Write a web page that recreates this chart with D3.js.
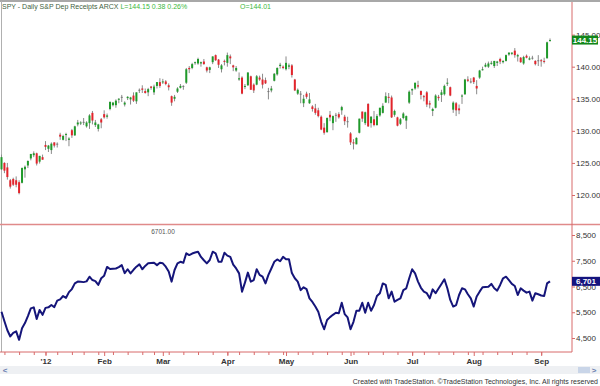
<!DOCTYPE html>
<html>
<head>
<meta charset="utf-8">
<script src="https://cdn.jsdelivr.net/npm/d3@7"></script>
<style>
  body { margin: 0; background: #fff; }
  svg { display: block; font-family: "Liberation Sans", Arial, sans-serif; }
  .axis path { display: none; }
  .axis line { stroke: #d86a6a; }
  .axis text { fill: #333; }
</style>
</head>
<body>
<script>
// trading days per month (Dec 2011 .. Sep 2012)
var tradingDays = [
  ["2011-12", [9,12,13,14,15,16,19,20,21,22,23,27,28,29,30]],
  ["2012-01", [3,4,5,6,9,10,11,12,13,17,18,19,20,23,24,25,26,27,30,31]],
  ["2012-02", [1,2,3,6,7,8,9,10,13,14,15,16,17,21,22,23,24,27,28,29]],
  ["2012-03", [1,2,5,6,7,8,9,12,13,14,15,16,19,20,21,22,23,26,27,28,29,30]],
  ["2012-04", [2,3,4,5,9,10,11,12,13,16,17,18,19,20,23,24,25,26,27,30]],
  ["2012-05", [1,2,3,4,7,8,9,10,11,14,15,16,17,18,21,22,23,24,25,29,30,31]],
  ["2012-06", [1,4,5,6,7,8,11,12,13,14,15,18,19,20,21,22,25,26,27,28,29]],
  ["2012-07", [2,3,5,6,9,10,11,12,13,16,17,18,19,20,23,24,25,26,27,30,31]],
  ["2012-08", [1,2,3,6,7,8,9,10,13,14,15,16,17,20,21,22,23,24,27,28,29,30,31]],
  ["2012-09", [4,5,6,7]]
];

var open = [
  124.0,125.0,124.3,122.3,122.5,122.3,122.0,121.9,124.0,124.6,125.7,126.2,126.5,125.2,125.9,
  127.8,127.2,127.0,128.2,128.0,129.4,128.6,129.4,128.6,130.1,129.3,131.0,131.2,131.4,130.7,131.2,132.8,130.9,130.3,131.8,
  132.6,132.2,133.4,134.0,134.0,134.9,135.3,134.1,135.1,134.9,135.5,134.6,136.4,136.6,136.2,136.0,136.9,136.0,137.0,137.6,
  137.6,137.7,137.1,135.4,135.0,136.1,136.7,137.0,137.5,139.8,139.8,140.6,140.5,140.5,140.8,139.9,139.5,140.7,141.8,141.1,139.6,140.9,
  140.6,141.6,140.2,139.4,138.0,138.3,136.9,137.1,138.5,137.2,137.2,138.3,138.0,137.9,136.2,136.3,137.8,138.8,140.1,140.0,
  139.6,140.0,140.2,138.0,135.8,135.8,134.3,135.8,134.3,133.8,133.5,133.2,132.2,130.5,129.8,132.5,131.2,132.5,132.6,133.2,132.2,131.5,
  129.6,128.2,127.9,129.7,133.0,131.2,134.2,131.2,131.8,130.9,132.4,132.8,134.4,135.3,135.2,132.5,132.1,131.1,132.0,131.6,134.4,
  136.3,136.6,137.1,136.2,135.4,136.0,134.3,133.1,133.6,135.3,135.6,135.7,137.4,136.8,133.3,134.3,133.5,135.4,135.7,138.0,137.7,
  138.3,137.0,138.3,139.5,140.0,140.0,140.5,140.1,140.6,141.2,140.7,140.9,141.9,142.0,142.5,141.6,141.4,140.5,141.7,141.1,141.4,140.9,141.0,
  141.0,140.9,141.3,144.01
];
var high = [
  126.3,125.1,125.0,122.5,122.7,122.9,122.3,124.3,124.6,125.4,126.4,126.8,126.6,126.1,126.3,
  128.4,127.8,128.2,128.2,128.2,129.7,129.4,129.7,129.0,130.3,130.8,131.7,131.5,132.0,131.5,132.6,133.1,131.7,131.1,132.0,
  133.2,132.7,134.6,134.5,134.9,135.1,135.6,134.6,135.4,135.3,136.0,136.0,136.6,137.1,136.6,136.7,137.0,137.2,137.6,138.2,
  138.1,137.9,137.4,135.5,135.6,136.8,137.3,137.1,139.8,140.1,140.6,140.8,141.4,140.8,141.2,140.0,140.0,141.6,141.9,141.2,140.4,141.1,
  142.2,141.9,140.3,140.1,139.1,138.5,137.3,139.1,138.6,137.4,138.7,138.6,138.9,138.3,136.7,137.0,139.0,139.9,140.6,140.2,
  141.6,140.5,140.4,138.1,136.6,136.2,135.6,136.1,135.9,134.0,134.2,133.6,132.4,131.2,132.1,133.1,132.4,132.8,132.9,133.9,132.5,132.2,
  129.8,128.7,129.0,131.9,133.0,133.0,134.3,132.3,133.1,132.6,133.6,134.3,136.0,135.9,135.5,133.3,132.2,132.0,132.9,132.4,136.3,
  136.6,137.5,137.8,136.3,135.6,136.2,134.7,133.6,135.7,135.6,136.4,137.2,138.2,136.9,134.6,134.5,134.1,135.7,138.1,138.5,138.2,
  138.4,137.9,139.5,140.0,140.6,140.8,140.9,140.9,140.9,141.4,141.0,141.9,142.2,142.2,142.9,142.0,141.5,141.7,141.9,141.6,141.7,141.0,141.8,
  141.2,141.4,143.9,144.4
];
var low = [
  123.9,123.4,122.4,121.0,121.4,121.2,120.1,121.8,122.7,124.2,125.4,125.9,124.6,124.9,125.5,
  127.0,126.7,126.4,127.4,127.4,128.6,128.5,128.4,127.6,128.9,129.2,130.7,130.9,130.9,130.5,130.3,131.0,130.6,129.9,130.4,
  131.9,131.9,133.2,133.8,133.6,134.3,134.5,133.8,134.8,134.1,134.5,134.2,135.9,135.9,135.8,135.4,136.4,135.6,136.6,136.7,
  137.3,137.1,136.3,133.9,134.6,135.9,136.6,136.4,137.3,139.0,139.6,140.3,140.3,140.0,140.3,139.1,139.0,140.4,140.9,139.8,139.1,140.2,
  140.0,140.4,139.3,139.2,137.8,135.7,136.5,137.0,136.4,135.9,137.1,137.8,136.6,137.3,134.9,136.0,137.7,138.6,139.7,139.6,
  139.4,139.6,138.3,136.2,135.6,134.3,133.7,135.0,134.2,133.0,132.5,132.1,130.1,129.4,129.7,131.5,130.1,131.4,131.9,132.5,130.9,130.5,
  127.8,127.1,127.9,129.6,131.4,130.9,130.6,130.5,130.7,130.8,132.2,132.7,134.4,134.3,132.0,132.2,130.7,130.9,131.8,130.3,134.2,
  135.6,136.4,136.6,134.9,134.6,133.7,133.5,132.3,133.5,134.7,134.5,135.5,137.0,135.4,132.8,132.3,132.6,134.2,135.6,137.6,137.4,
  137.3,135.7,138.1,139.4,139.9,139.8,140.3,139.8,140.1,140.4,140.5,140.8,141.7,141.8,141.4,140.8,140.6,140.3,141.3,141.0,141.1,140.2,140.1,
  140.0,140.5,141.3,143.9
];
var close = [
  125.9,123.8,122.8,121.3,121.6,121.6,120.3,124.2,124.4,125.3,126.4,126.5,124.9,126.1,125.5,
  127.5,127.7,128.0,127.7,128.0,129.1,129.2,129.5,128.8,129.3,130.7,131.3,131.3,131.4,131.3,132.4,131.6,131.3,131.0,131.3,
  132.1,132.4,134.5,134.4,134.7,135.0,135.3,134.4,135.3,135.2,134.7,136.0,136.4,136.4,135.9,136.5,136.7,136.9,137.6,137.0,
  137.7,137.3,136.8,134.4,135.3,136.6,137.0,137.0,139.6,139.6,140.4,140.7,141.2,140.7,140.4,139.4,139.9,141.6,141.0,140.3,140.2,140.8,
  141.8,141.3,139.9,139.8,138.2,135.8,137.0,139.1,136.4,136.3,138.5,138.0,137.2,137.4,136.2,136.6,138.9,139.8,140.3,139.8,
  140.6,140.2,138.7,136.3,136.4,135.8,135.0,135.3,134.9,133.4,132.8,132.3,130.2,129.7,132.0,132.1,132.3,132.5,132.1,133.7,131.5,131.5,
  128.2,128.1,128.9,131.9,131.9,132.9,130.7,132.2,130.9,132.3,133.6,133.9,135.4,135.2,132.1,133.1,130.8,131.8,132.7,132.3,136.1,
  136.5,137.5,136.9,135.6,135.3,134.1,134.1,133.4,135.5,135.1,136.0,137.0,137.5,135.5,134.4,133.2,133.2,135.5,138.0,137.8,137.7,
  137.6,136.6,139.4,139.6,140.3,140.5,140.6,140.9,140.8,140.8,140.9,141.8,142.2,142.2,141.8,141.8,140.7,141.5,141.4,141.3,141.4,140.4,141.0,
  140.9,140.8,143.8,144.15
];

// lower study line
var study = [
  5520,5150,4800,4560,4700,4760,4430,4880,5080,5350,5650,5690,5240,5590,5400,
  5670,5690,5780,5700,5950,6000,6130,6060,6280,6400,6620,6690,6680,6670,6700,6880,6750,6710,6560,6820,
  6920,7260,7180,7190,7200,7250,7330,7020,7170,7010,7150,7270,7360,7170,7300,7400,7410,7420,7330,7420,
  7400,7270,7080,6690,7140,7400,7460,7420,7790,7720,7780,7820,7850,7650,7520,7400,7530,7850,7790,7460,7460,7810,
  7700,7650,7350,7200,7010,6300,6650,7040,6690,6750,7170,6950,6880,6620,6950,7200,7460,7550,7480,7650,
  7560,7560,7020,6820,6690,6360,6470,6400,6040,5900,5720,5520,5130,4840,5200,5310,5400,5480,5460,5870,5430,5300,
  4840,5130,5560,5560,5870,5480,5870,5560,5780,6130,6240,6620,6560,6040,6300,5910,5980,6040,6360,6430,6820,
  7170,7010,6690,6450,6300,6240,6040,6390,6240,6420,6600,6780,6430,5980,5720,5780,6170,6430,6390,6200,6040,
  5720,6110,6300,6470,6480,6490,6600,6430,6340,6560,6820,6880,6750,6600,6520,6170,6430,6340,6260,6300,5950,6240,6200,
  6150,6130,6620,6701
];

var monthLabels = ["'12", "Feb", "Mar", "Apr", "May", "Jun", "Jul", "Aug", "Sep"];
var priceTicks = [120, 125, 130, 135, 140, 145];
var studyTicks = [4500, 5500, 6500, 7500, 8500];
var lastPrice = 144.15, lastStudy = 6701;

var width = 600, height = 386;

// build dates
var dates = [];
tradingDays.forEach(function(m) {
  m[1].forEach(function(d) { dates.push(m[0] + "-" + (d < 10 ? "0" + d : d)); });
});
var bars = dates.map(function(d, i) {
  return {date: d, o: open[i], h: high[i], l: low[i], c: close[i], s: study[i]};
});

// first trading day of each month (skip the partial first month)
var monthStarts = [];
dates.forEach(function(d, i) {
  if (i > 0 && d.slice(0, 7) != dates[i - 1].slice(0, 7)) monthStarts.push(d);
});
// first trading day of each week
var weekStarts = [];
var parse = d3.timeParse("%Y-%m-%d");
dates.forEach(function(d, i) {
  if (i == 0) return;
  if (d3.timeMonday.floor(parse(d)) > d3.timeMonday.floor(parse(dates[i - 1]))) weekStarts.push(d);
});

var svg = d3.select("body").append("svg")
  .attr("width", width)
  .attr("height", height);

var x = d3.scalePoint().domain(dates).range([1.5, 550]);
var yPrice = d3.scaleLinear().domain([120, 145]).range([195, 34.6]);
var yStudy = d3.scaleLinear().domain([4500, 8500]).range([338, 235]);

// frame
svg.append("line").attr("x1", 0).attr("x2", width).attr("y1", 1).attr("y2", 1)
  .attr("stroke", "#a8a8a8").attr("stroke-width", 2);
svg.append("line").attr("x1", 1.5).attr("x2", 1.5).attr("y1", 1).attr("y2", 352)
  .attr("stroke", "#b0b0b0");
svg.append("line").attr("x1", 0).attr("x2", width).attr("y1", 224.5).attr("y2", 224.5)
  .attr("stroke", "#e08a8a").attr("stroke-width", 1.5);
svg.append("line").attr("x1", 572).attr("x2", 572).attr("y1", 2).attr("y2", 352)
  .attr("stroke", "#d86a6a");

// title
var title = svg.append("text").attr("x", 2).attr("y", 9).style("font-size", "7px");
title.append("tspan").attr("fill", "#3f5f3f").text("SPY - Daily  S&P Dep Receipts  ARCX  ");
title.append("tspan").attr("fill", "#3cb83c").text("L=144.15  0.38  0.26%");
svg.append("text").attr("x", 240).attr("y", 9).style("font-size", "7px")
  .attr("fill", "#3cb83c").text("O=144.01");

// candles
var candles = svg.append("g").selectAll("g").data(bars).enter().append("g");
candles.append("line")
  .attr("x1", function(d) { return x(d.date); })
  .attr("x2", function(d) { return x(d.date); })
  .attr("y1", function(d) { return yPrice(d.h); })
  .attr("y2", function(d) { return yPrice(d.l); })
  .attr("stroke", "#8a8a8a").attr("stroke-width", 1);
candles.append("rect")
  .attr("x", function(d) { return x(d.date) - 1; })
  .attr("width", 2)
  .attr("y", function(d) { return yPrice(Math.max(d.o, d.c)); })
  .attr("height", function(d) { return Math.max(1, Math.abs(yPrice(d.o) - yPrice(d.c))); })
  .attr("fill", function(d) {
    if (d.c > d.o) return "#1f9a2a";
    if (d.c < d.o) return "#e3242b";
    return "#777";
  });

// price axis
svg.append("g").attr("class", "axis").attr("transform", "translate(572,0)")
  .call(d3.axisRight(yPrice).tickValues(priceTicks).tickSize(3).tickPadding(1)
    .tickFormat(d3.format(".2f")))
  .selectAll("text").style("font-size", "8px");

var pb = svg.append("g").attr("transform", "translate(572," + yPrice(lastPrice) + ")");
pb.append("rect").attr("x", 0).attr("y", -4.5).attr("width", 26).attr("height", 9).attr("fill", "#12861a");
pb.append("text").attr("x", 13).attr("y", 3).attr("text-anchor", "middle")
  .style("font-size", "8px").style("font-weight", "bold").attr("fill", "#fff")
  .text(d3.format(".2f")(lastPrice));

// study line
var line = d3.line()
  .x(function(d) { return x(d.date); })
  .y(function(d) { return yStudy(d.s); });
svg.append("path").datum(bars)
  .attr("d", line)
  .attr("fill", "none")
  .attr("stroke", "#15157a")
  .attr("stroke-width", 2)
  .attr("stroke-linejoin", "round");

svg.append("text").attr("x", 163).attr("y", 233.5).attr("text-anchor", "middle")
  .style("font-size", "6.5px").attr("fill", "#555").text(d3.format(".2f")(lastStudy));

svg.append("g").attr("class", "axis").attr("transform", "translate(572,0)")
  .call(d3.axisRight(yStudy).tickValues(studyTicks).tickSize(3).tickPadding(1)
    .tickFormat(d3.format(",")))
  .selectAll("text").style("font-size", "8px");

var sb = svg.append("g").attr("transform", "translate(572," + yStudy(lastStudy) + ")");
sb.append("rect").attr("x", 0).attr("y", -4.5).attr("width", 28).attr("height", 9).attr("fill", "#14147e");
sb.append("text").attr("x", 14).attr("y", 3).attr("text-anchor", "middle")
  .style("font-size", "8px").style("font-weight", "bold").attr("fill", "#fff")
  .text(d3.format(",")(lastStudy));

// time axis
svg.append("line").attr("x1", 0).attr("x2", 572).attr("y1", 352).attr("y2", 352)
  .attr("stroke", "#d86a6a");
svg.append("g").attr("class", "axis").attr("transform", "translate(0,352)")
  .call(d3.axisBottom(x).tickValues(weekStarts).tickSize(3).tickFormat(""));
svg.append("g").attr("class", "axis").attr("transform", "translate(0,352)")
  .call(d3.axisBottom(x).tickValues(monthStarts).tickSize(4).tickPadding(2)
    .tickFormat(function(d, i) { return monthLabels[i]; }))
  .selectAll("text").style("font-size", "8px").style("font-weight", "bold").attr("fill", "#444");

// scroll strip
svg.append("rect").attr("x", 0).attr("y", 366).attr("width", width).attr("height", 8).attr("fill", "#eef0f3");
svg.append("text").attr("x", 5).attr("y", 372.5).attr("text-anchor", "middle")
  .style("font-size", "8px").style("font-weight", "bold").attr("fill", "#6a7fb0").text("<");
svg.append("rect").attr("x", 578).attr("y", 367).attr("width", 12).attr("height", 6).attr("fill", "#c9d5e8");
svg.append("text").attr("x", 594).attr("y", 372.5).attr("text-anchor", "middle")
  .style("font-size", "8px").style("font-weight", "bold").attr("fill", "#6a7fb0").text(">");

svg.append("text").attr("x", 598).attr("y", 384).attr("text-anchor", "end")
  .style("font-size", "7px").attr("fill", "#333")
  .text("Created with TradeStation. \u00a9TradeStation Technologies, Inc. All rights reserved");
</script>
</body>
</html>
